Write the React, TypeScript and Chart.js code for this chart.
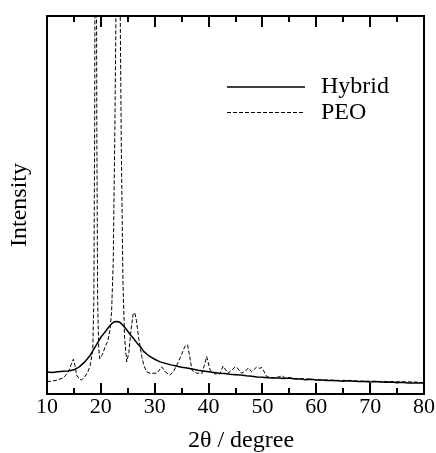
import React, { useEffect, useRef } from "react";
import { Chart, registerables } from "chart.js";

Chart.register(...registerables);

const xTickValues = [10, 20, 30, 40, 50, 60, 70, 80];
const xTitle = "2θ / degree";
const yTitle = "Intensity";
const seriesNames = ["Hybrid", "PEO"];

const hybridTheta = [
  10, 11, 12, 13, 14, 15, 16, 17, 18,
  18.5, 19, 19.5, 20, 20.5, 21, 21.5, 22, 22.5, 23, 23.5, 24, 24.5, 25, 25.5, 26, 26.5, 27, 27.5, 28,
  29, 30, 31, 32, 33, 34, 35, 36, 37, 38, 39, 40, 41, 42, 43, 44, 45, 46, 47, 48, 49, 50,
  51, 52, 53, 54, 55, 56, 57, 58, 59, 60, 61, 62, 63, 64, 65, 66, 67, 68, 69, 70,
  71, 72, 73, 74, 75, 76, 77, 78, 79, 80,
];
const hybridIntensity = [
  5.8, 5.7, 5.9, 6.0, 6.1, 6.4, 7.2, 8.5, 10.2,
  11.4, 12.6, 13.8, 15.0, 15.9, 16.8, 17.8, 18.6, 19.1, 19.2, 19.0, 18.3, 17.5, 16.6, 15.6, 14.8, 13.9, 13.0, 12.2, 11.2,
  10.0, 9.2, 8.5, 8.1, 7.7, 7.4, 7.1, 6.9, 6.6, 6.3, 6.1, 5.9, 5.7, 5.5, 5.4, 5.2, 5.1, 5.0, 4.8, 4.7, 4.5, 4.4,
  4.3, 4.2, 4.2, 4.1, 4.2, 4.0, 4.0, 3.8, 3.9, 3.7, 3.7, 3.6, 3.6, 3.5, 3.4, 3.5, 3.4, 3.3, 3.3, 3.2,
  3.3, 3.2, 3.1, 3.2, 3.0, 3.1, 2.9, 2.9, 2.9, 2.9,
];

const peoTheta = [
  10, 11, 12, 13, 13.5, 14, 14.5, 14.9, 15.2, 15.5, 16.0, 16.4, 17.0, 17.6, 18.0,
  18.5, 18.7, 18.85, 19.05, 19.25, 19.4, 19.6, 19.8, 20.3, 20.8, 21.3, 21.7, 22.0, 22.3, 22.6, 22.8, 23.2, 23.6, 23.8, 24.1, 24.4, 24.8,
  25.2, 25.6, 26.0, 26.3, 26.6, 27.0, 27.6, 28.0, 28.5, 29.1, 30.4, 31.3, 32.0, 32.8, 33.5, 34.3, 35.0, 35.6, 36.1, 36.5, 36.9,
  37.8, 38.8, 39.2, 39.65, 40.3, 41.2, 42.1, 42.7, 43.6, 44.3, 45.0, 45.4, 46.1, 46.8, 47.4, 48.0, 48.9, 49.5, 49.9, 50.8,
  51.5, 52, 53, 53.6, 54.3, 55, 56, 58, 60, 62, 64, 66, 68, 70, 72, 74, 76, 78, 80,
];
const peoIntensity = [
  3.3, 3.4, 3.7, 4.3, 5.0, 6.0, 7.8, 9.2, 7.5, 5.0, 4.0, 3.7, 4.5, 5.9, 7.5,
  11.6, 25, 70, 200, 70, 25, 12, 9.3, 10.5, 12.5, 14.0, 17, 22, 35, 70, 100, 180, 100, 65, 30, 15, 8.5,
  11, 17, 21.2, 21.5, 19.5, 15, 9.9, 7.5, 5.9, 5.5, 5.5, 7.2, 5.8, 5.0, 6.0, 8.2, 10.5, 12.6, 13.0, 10.0, 6.3,
  5.5, 5.5, 7.5, 9.9, 6.3, 5.3, 5.3, 7.4, 5.5, 6.3, 7.2, 6.8, 5.5, 6.0, 6.9, 5.9, 7.1, 6.8, 7.0, 4.6,
  4.4, 4.3, 4.5, 4.8, 4.2, 4.3, 4.1, 4.0, 3.8, 3.7, 3.6, 3.6, 3.4, 3.4, 3.3, 3.3, 3.2, 3.2, 3.0,
];

const FONT = "'Liberation Serif', 'Times New Roman', serif";

const framePlugin = {
  id: "frameTicks",
  afterDraw(chart: any) {
    const { ctx, chartArea } = chart;
    const { left, right, top, bottom } = chartArea;
    const xs = chart.scales.x;
    ctx.save();
    ctx.strokeStyle = "#000";
    ctx.lineWidth = 2;
    ctx.strokeRect(left, top, right - left, bottom - top);
    for (let v = 10; v <= 80; v += 5) {
      const px = Math.round(xs.getPixelForValue(v));
      const len = v % 10 === 0 ? 11 : 6;
      ctx.beginPath();
      ctx.moveTo(px, bottom);
      ctx.lineTo(px, bottom - len);
      ctx.moveTo(px, top);
      ctx.lineTo(px, top + len);
      ctx.stroke();
    }
    // legend
    ctx.lineWidth = 1.3;
    ctx.beginPath();
    ctx.moveTo(227, 87);
    ctx.lineTo(305, 87);
    ctx.stroke();
    ctx.lineWidth = 1;
    ctx.setLineDash([4, 2]);
    ctx.beginPath();
    ctx.moveTo(227, 112.5);
    ctx.lineTo(305, 112.5);
    ctx.stroke();
    ctx.setLineDash([]);
    ctx.fillStyle = "#000";
    ctx.font = "24px " + FONT;
    ctx.textBaseline = "middle";
    ctx.textAlign = "left";
    ctx.fillText(seriesNames[0], 321, 87);
    ctx.fillText(seriesNames[1], 321, 113);
    // x-axis title
    ctx.textAlign = "center";
    ctx.fillText(xTitle, 241, 441);
    ctx.restore();
  },
};

export default function App() {
  const ref = useRef<HTMLCanvasElement>(null);
  useEffect(() => {
    if (!ref.current) return;
    const chart = new Chart(ref.current, {
      type: "line",
      data: {
        datasets: [
          {
            label: seriesNames[0],
            data: hybridTheta.map((t, i) => ({ x: t, y: hybridIntensity[i] })),
            borderColor: "#000",
            borderWidth: 1.5,
            pointRadius: 0,
            tension: 0,
          },
          {
            label: seriesNames[1],
            data: peoTheta.map((t, i) => ({ x: t, y: peoIntensity[i] })),
            borderColor: "#000",
            borderWidth: 1,
            borderDash: [4, 2],
            pointRadius: 0,
            tension: 0,
          },
        ],
      },
      options: {
        responsive: false,
        animation: false,
        layout: { padding: { top: 16, right: 12, left: 0, bottom: 0 } },
        plugins: { legend: { display: false }, tooltip: { enabled: false } },
        scales: {
          x: {
            type: "linear",
            min: 10,
            max: 80,
            afterBuildTicks: (s: any) => {
              s.ticks = xTickValues.map((v) => ({ value: v }));
            },
            afterFit: (s: any) => {
              s.height = 59;
            },
            ticks: {
              color: "#000",
              font: { family: FONT, size: 22 },
              padding: 0,
              maxRotation: 0,
            },
            grid: { display: false, drawTicks: false },
            border: { display: false },
            title: { display: false },
          },
          y: {
            type: "linear",
            min: 0,
            max: 100,
            afterFit: (s: any) => {
              s.width = 47;
            },
            ticks: { display: false },
            grid: { display: false, drawTicks: false },
            border: { display: false },
            title: {
              display: true,
              text: yTitle,
              color: "#000",
              font: { family: FONT, size: 24, lineHeight: 1.0 },
              padding: { top: 8, bottom: 0 },
            },
          },
        },
      },
      plugins: [framePlugin],
    });
    return () => chart.destroy();
  }, []);
  return (
    <div style={{ position: "fixed", left: 0, top: 0 }}>
      <canvas ref={ref} width={436} height={453} />
    </div>
  );
}
